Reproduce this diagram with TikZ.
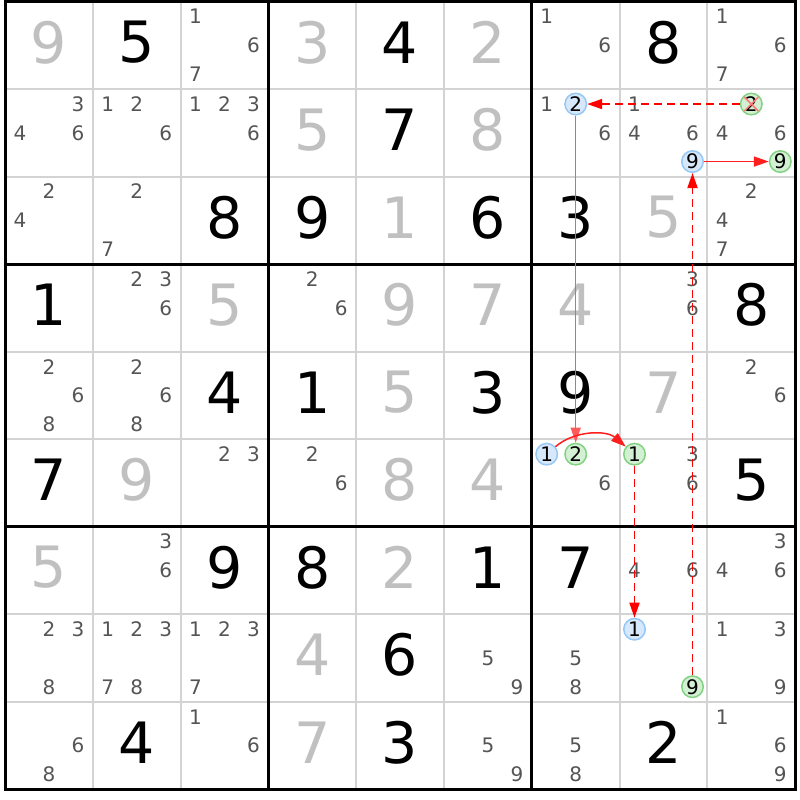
\documentclass[tikz,border=0pt]{standalone}
\usepackage{fontspec}
\setmainfont{DejaVu Sans}
\usetikzlibrary{arrows.meta,calc}
\definecolor{solvedgray}{RGB}{192,192,192}
\definecolor{candgray}{RGB}{85,85,85}
\definecolor{thingray}{RGB}{211,211,211}
\definecolor{bluefill}{RGB}{214,232,250}
\definecolor{blueline}{RGB}{150,200,245}
\definecolor{greenfill}{RGB}{212,240,212}
\definecolor{greenline}{RGB}{130,210,130}
\definecolor{linkred}{RGB}{255,0,0}
\definecolor{solidred}{RGB}{255,30,30}
\definecolor{lightred}{RGB}{255,90,90}
\definecolor{crossred}{RGB}{255,120,120}
\newcommand\gv[3]{\node[given] (g#1#2) at (c#1#2) {#3};}
\newcommand\sv[3]{\node[solved] (s#1#2) at (c#1#2) {#3};}
\newcommand\cands[3]{\foreach \k in {#3}{\pgfmathtruncatemacro\kc{mod(\k-1,3)}\pgfmathtruncatemacro\kr{(\k-1)/3}\node[cand] (p#1#2\k) at ([shift={({(\kc-1)*29},{(\kr-1)*28.75})}]c#1#2) {\k};}}
\newcommand\ccand[5]{\pgfmathtruncatemacro\kc{mod(#5-1,3)}\pgfmathtruncatemacro\kr{(#5-1)/3}\node[#1] (#2) at ([shift={({(\kc-1)*29},{(\kr-1)*28.75})}]c#3#4) {#5};}
\begin{document}
\begin{tikzpicture}[x=1pt,y=-1pt,
  given/.style={font=\fontsize{57}{57}\selectfont, text=black, inner sep=0pt, yshift=3pt},
  solved/.style={given, text=solvedgray},
  cand/.style={font=\fontsize{20}{20}\selectfont, text=candgray, inner sep=0pt},
  bluec/.style={circle, draw=blueline, fill=bluefill, line width=1.5pt, minimum size=21.5pt, inner sep=0pt, font=\fontsize{20}{20}\selectfont, text=black},
  greenc/.style={bluec, draw=greenline, fill=greenfill},
  strong/.style={draw=solidred, line width=1.5pt, -{Triangle[length=15pt,width=10pt]}},
  weak/.style={strong, draw=linkred, line width=1.8pt, dash pattern=on 8pt off 5pt},
  thinline/.style={draw=thingray, line width=2pt},
  thickline/.style={draw=black, line width=3pt},
]
\useasboundingbox (0,0) rectangle (800,800);
\fill[white] (0,0) rectangle (800,800);
% grid
\foreach \i in {1,2,4,5,7,8}{
  \draw[thinline] ({5+87.8*\i},1.5) -- ({5+87.8*\i},789.3);
  \draw[thinline] (5,{1.5+87.53*\i}) -- (795.2,{1.5+87.53*\i});
}
\foreach \i in {3,6}{
  \draw[thickline] ({5+87.8*\i},1.5) -- ({5+87.8*\i},789.3);
  \draw[thickline] (5,{1.5+87.53*\i}) -- (795.2,{1.5+87.53*\i});
}
\draw[thickline] (5,1.5) rectangle (795.2,789.3);
% cell centres
\foreach \ro in {1,...,9}{\foreach \co in {1,...,9}{
  \coordinate (c\ro\co) at ({5+87.8*(\co-0.5)},{1.5+87.53*(\ro-0.5)});
}}
% givens
\gv12{5}\gv15{4}\gv18{8}\gv25{7}\gv33{8}\gv34{9}\gv36{6}\gv37{3}
\gv41{1}\gv49{8}\gv53{4}\gv54{1}\gv56{3}\gv57{9}\gv61{7}\gv69{5}
\gv73{9}\gv74{8}\gv76{1}\gv77{7}\gv85{6}\gv92{4}\gv95{3}\gv98{2}
% solved
\sv11{9}\sv14{3}\sv16{2}\sv24{5}\sv26{8}\sv35{1}\sv38{5}
\sv43{5}\sv45{9}\sv46{7}\sv47{4}\sv55{5}\sv58{7}
\sv62{9}\sv65{8}\sv66{4}\sv71{5}\sv75{2}\sv84{4}\sv94{7}
% candidates
\cands13{1,6,7}\cands17{1,6}\cands19{1,6,7}
\cands21{3,4,6}\cands22{1,2,6}\cands23{1,2,3,6}\cands27{1,6}\cands28{1,4,6}\cands29{4,6}
\cands31{2,4}\cands32{2,7}\cands39{2,4,7}
\cands42{2,3,6}\cands44{2,6}\cands48{3,6}
\cands51{2,6,8}\cands52{2,6,8}\cands59{2,6}
\cands63{2,3}\cands64{2,6}\cands67{6}\cands68{3,6}
\cands72{3,6}\cands78{4,6}\cands79{3,4,6}
\cands81{2,3,8}\cands82{1,2,3,7,8}\cands83{1,2,3,7}\cands86{5,9}\cands87{5,8}\cands89{1,3,9}
\cands91{6,8}\cands93{1,6}\cands96{5,9}\cands97{5,8}\cands99{1,6,9}
% circled candidates
\ccand{bluec}{B27}{2}{7}{2}
\ccand{bluec}{B289}{2}{8}{9}
\ccand{greenc}{G292}{2}{9}{2}
\ccand{greenc}{G299}{2}{9}{9}
\ccand{bluec}{B671}{6}{7}{1}
\ccand{greenc}{G672}{6}{7}{2}
\ccand{greenc}{G681}{6}{8}{1}
\ccand{bluec}{B881}{8}{8}{1}
\ccand{greenc}{G889}{8}{8}{9}
% links
\draw[weak] (G292) -- (B27);
\draw[strong] (B289) -- (G299);
\draw[strong, draw=lightred, line width=1.2pt] (B27) -- (G672);
\draw[strong] (B671) .. controls ([shift={(28,-24)}]B671.center) and ([shift={(-28,-24)}]G681.center) .. (G681);
\draw[weak] (G681) -- (B881);
\draw[weak] (G889) -- (B289);
% elimination cross
\draw[crossred, line width=1.5pt] ([shift={(-7,-7)}]G292.center) -- ([shift={(7,7)}]G292.center);
\draw[crossred, line width=1.5pt] ([shift={(7,-7)}]G292.center) -- ([shift={(-7,7)}]G292.center);
\end{tikzpicture}
\end{document}
